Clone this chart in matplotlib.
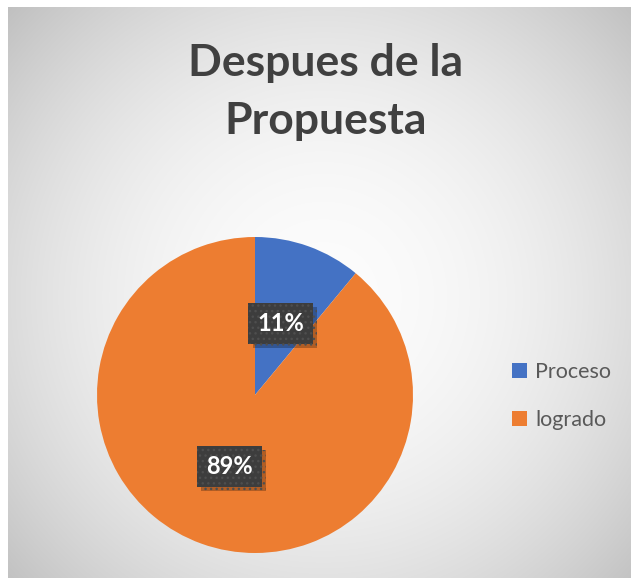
import numpy as np
import matplotlib.pyplot as plt
from matplotlib.patches import Patch
import matplotlib.patheffects as pe

categorias = ["Proceso", "logrado"]
porcentajes = [11, 89]
colores = ["#4472C4", "#ED7D31"]
titulo = "Despues de la\nPropuesta"

W, H = 631, 578
fig = plt.figure(figsize=(W / 100, H / 100), dpi=100, facecolor="white")

# fondo con degradado radial (claro al centro, gris en los bordes)
bg = fig.add_axes([8 / W, 0, 1 - 8 / W, 1 - 7 / H])
bw, bh = W - 8, H - 7
yy, xx = np.mgrid[0:bh, 0:bw]
cx, cy = 315, 290
d = np.sqrt((xx - cx) ** 2 + (yy - cy) ** 2)
d = d / np.sqrt(cx ** 2 + cy ** 2)
v = 252 - (252 - 192) * np.clip(d, 0, 1) ** 2.0
img = np.dstack([v, v, v]) / 255
bg.imshow(img, aspect="auto", interpolation="bilinear")
bg.set_axis_off()

fig.text(326 / W, 1 - 92 / H, titulo, ha="center", va="center",
         fontsize=32, fontweight="bold", color="#404040",
         family="Lato", linespacing=1.55)

ax = fig.add_axes([97 / W, 25 / H, 316 / W, 316 / H])
wedges, _ = ax.pie(porcentajes, colors=colores, startangle=90,
                   counterclock=False, radius=1.0,
                   wedgeprops=dict(linewidth=0))
ax.set_xlim(-1, 1)
ax.set_ylim(-1, 1)
ax.set_aspect("equal")
ax.set_axis_off()

# etiquetas de porcentaje en cajas oscuras con sombra
for w, p in zip(wedges, porcentajes):
    ang = np.deg2rad((w.theta1 + w.theta2) / 2)
    r = 0.48
    t = ax.text(r * np.cos(ang), r * np.sin(ang), f"{p}%",
                ha="center", va="center", fontsize=17, fontweight="bold",
                color="white", family="Lato",
                bbox=dict(boxstyle="square,pad=0.38", fc="#3d3d3d",
                          ec="#4e4e4e", lw=0, hatch="..."))
    t.get_bbox_patch().set_path_effects(
        [pe.SimplePatchShadow(offset=(3, -3), shadow_rgbFace="black", alpha=0.25),
         pe.Normal()])

handles = [Patch(facecolor=c, edgecolor="none") for c in colores]
fig.legend(handles, categorias, loc="center left",
           bbox_to_anchor=(493 / W, 1 - 396 / H), frameon=False,
           handlelength=0.7, handleheight=0.7, handletextpad=0.35,
           labelspacing=1.3, prop=dict(family="Lato", size=15.5),
           labelcolor="#595959")

fig.savefig("out.png", dpi=100, facecolor="white")
